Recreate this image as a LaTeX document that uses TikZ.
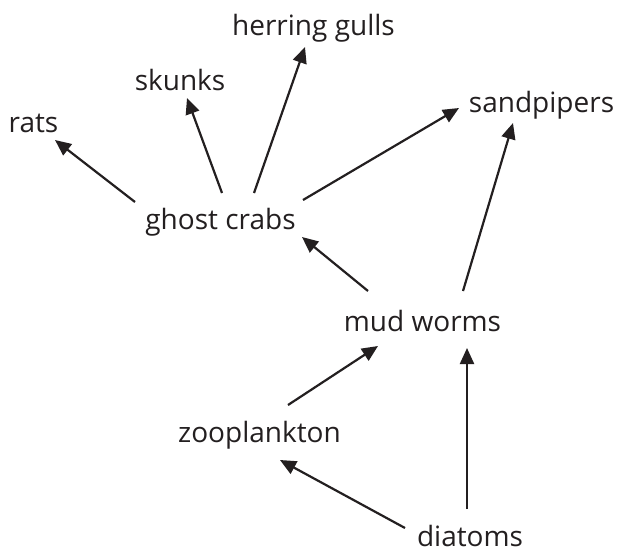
\documentclass[tikz,border=0pt]{standalone}
\usepackage{fontspec}
\setmainfont{Open Sans}
\usetikzlibrary{arrows.meta}
\definecolor{ink}{HTML}{231F20}
\begin{document}
\begin{tikzpicture}[x=1pt,y=-1pt,
  lbl/.style={anchor=base,inner sep=0pt,text=ink,font=\fontsize{28}{33}\selectfont},
  arr/.style={draw=ink,line width=2.2pt,-{Triangle[length=16pt,width=14pt]}}]
\useasboundingbox[fill=white] (0,0) rectangle (617,552);
\node[lbl] (hg) at (313.5,35) {herring gulls};
\node[lbl] (sk) at (180,90) {skunks};
\node[lbl] (rt) at (33.5,132) {rats};
\node[lbl] (sp) at (541.5,112) {sandpipers};
\node[lbl] (gc) at (220.5,229) {ghost crabs};
\node[lbl] (mw) at (422.5,331) {mud worms};
\node[lbl] (zp) at (259.5,442) {zooplankton};
\node[lbl] (dt) at (470,546) {diatoms};
\draw[arr] ([shift={(-85.5,-27)}]gc.base) -- ([shift={(21.5,8)}]rt.base);
\draw[arr] ([shift={(1.5,-36)}]gc.base) -- ([shift={(7,8)}]sk.base);
\draw[arr] ([shift={(33.5,-36)}]gc.base) -- ([shift={(-8.5,12)}]hg.base);
\draw[arr] ([shift={(82.5,-29)}]gc.base) -- ([shift={(-82.5,-4)}]sp.base);
\draw[arr] ([shift={(-54.5,-40)}]mw.base) -- ([shift={(81.5,8)}]gc.base);
\draw[arr] ([shift={(40.5,-40)}]mw.base) -- ([shift={(-28.5,11)}]sp.base);
\draw[arr] ([shift={(28.5,-37)}]zp.base) -- ([shift={(-44.5,15)}]mw.base);
\draw[arr] ([shift={(-65,-18)}]dt.base) -- ([shift={(20.5,18)}]zp.base);
\draw[arr] ([shift={(-3,-37)}]dt.base) -- ([shift={(44.5,17)}]mw.base);
\end{tikzpicture}
\end{document}
